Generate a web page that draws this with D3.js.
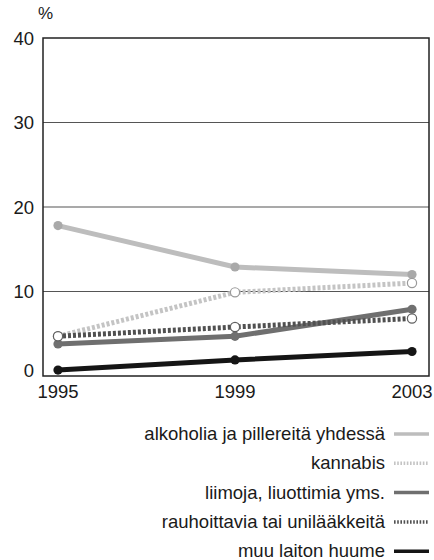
<!DOCTYPE html>
<html>
<head>
<meta charset="utf-8">
<script src="https://cdn.jsdelivr.net/npm/d3@7"></script>
<style>
  html, body { margin: 0; padding: 0; background: #fff; }
  svg text { font-family: "Liberation Sans", Arial, sans-serif; fill: #1a1a1a; }
</style>
</head>
<body>
<div id="chart"></div>
<script>
(function () {
"use strict";

// Data
var years = [1995, 1999, 2003];
var yTicks = [0, 10, 20, 30, 40];

var names = [
  "alkoholia ja pillereitä yhdessä",
  "kannabis",
  "liimoja, liuottimia yms.",
  "rauhoittavia tai unilääkkeitä",
  "muu laiton huume"
];

var alkoholia    = [17.8, 12.9, 12.0];
var kannabis     = [4.7, 9.9, 11.0];
var liimoja      = [3.8, 4.7, 7.9];
var rauhoittavia = [4.7, 5.8, 6.8];
var muu          = [0.7, 1.9, 2.9];

var seriesValues = [alkoholia, kannabis, liimoja, rauhoittavia, muu];

// look of each series (same order as names)
var styles = [
  { stroke: "#bdbdbd", dash: null,  dot: "#a9a9a9", open: false },
  { stroke: "#c4c4c4", dash: "3,2", dot: "#9a9a9a", open: true },
  { stroke: "#6f6f6f", dash: null,  dot: "#707070", open: false },
  { stroke: "#505050", dash: "3,2", dot: "#606060", open: true },
  { stroke: "#151515", dash: null,  dot: "#151515", open: false }
];

var fullWidth = 434,
    fullHeight = 560;

var plot = { left: 43, right: 429, top: 38, bottom: 376 };

var xScale = d3.scaleLinear()
  .domain([1995, 2003])
  .range([58, 412]);

var yScale = d3.scaleLinear()
  .domain([0, 40])
  .range([plot.bottom, plot.top]);

var svg = d3.select("#chart").append("svg")
  .attr("width", fullWidth)
  .attr("height", fullHeight)
  .attr("viewBox", "0 0 " + fullWidth + " " + fullHeight);

// Gridlines
svg.append("g")
  .selectAll("line")
  .data(yTicks.filter(function(d) { return d > 0 && d < 40; }))
  .enter()
    .append("line")
      .attr("x1", plot.left)
      .attr("x2", plot.right)
      .attr("y1", function(d) { return yScale(d); })
      .attr("y2", function(d) { return yScale(d); })
      .style("stroke", "#555")
      .style("stroke-width", 1.2);

// Frame
svg.append("rect")
  .attr("x", plot.left)
  .attr("y", plot.top)
  .attr("width", plot.right - plot.left)
  .attr("height", plot.bottom - plot.top)
  .style("fill", "none")
  .style("stroke", "#222")
  .style("stroke-width", 1.5);

// Y tick labels ("0" sits a bit above the axis)
svg.append("g")
  .selectAll("text")
  .data(yTicks)
  .enter()
    .append("text")
      .attr("x", 34)
      .attr("y", function(d) { return yScale(d) - (d === 0 ? 6 : 0); })
      .attr("dy", "0.36em")
      .style("text-anchor", "end")
      .style("font-size", "18.5px")
      .text(function(d) { return d; });

svg.append("text")
  .attr("x", 38)
  .attr("y", 19)
  .style("font-size", "17px")
  .text("%");

// X tick labels
svg.append("g")
  .selectAll("text")
  .data(years)
  .enter()
    .append("text")
      .attr("x", function(d) { return xScale(d); })
      .attr("y", 398)
      .style("text-anchor", "middle")
      .style("font-size", "18.5px")
      .text(function(d) { return d; });

// Series
var line = d3.line()
  .x(function(d, i) { return xScale(years[i]); })
  .y(function(d) { return yScale(d); });

var seriesGroup = svg.append("g");

seriesValues.forEach(function(vals, k) {
  var st = styles[k];
  var g = seriesGroup.append("g");

  g.append("path")
    .attr("d", line(vals))
    .style("fill", "none")
    .style("stroke", st.stroke)
    .style("stroke-width", 5)
    .style("stroke-dasharray", st.dash);

  g.selectAll("circle")
    .data(vals)
    .enter()
      .append("circle")
        .attr("cx", function(d, i) { return xScale(years[i]); })
        .attr("cy", function(d) { return yScale(d); })
        .attr("r", 4.6)
        .style("fill", st.open ? "#fff" : st.dot)
        .style("stroke", st.dot)
        .style("stroke-width", st.open ? 1.2 : 0);
});

// Legend
var legendY0 = 434,
    legendStep = 29.3;

var legend = svg.append("g");

names.forEach(function(name, k) {
  var st = styles[k];
  var y = legendY0 + k * legendStep;

  legend.append("text")
    .attr("x", 385)
    .attr("y", y)
    .attr("dy", "0.33em")
    .style("text-anchor", "end")
    .style("font-size", "18.5px")
    .text(name);

  legend.append("line")
    .attr("x1", 394)
    .attr("x2", 429)
    .attr("y1", y)
    .attr("y2", y)
    .style("stroke", st.stroke)
    .style("stroke-width", 3.5)
    .style("stroke-dasharray", st.dash ? "1.6,1.6" : null);
});

})();
</script>
</body>
</html>
